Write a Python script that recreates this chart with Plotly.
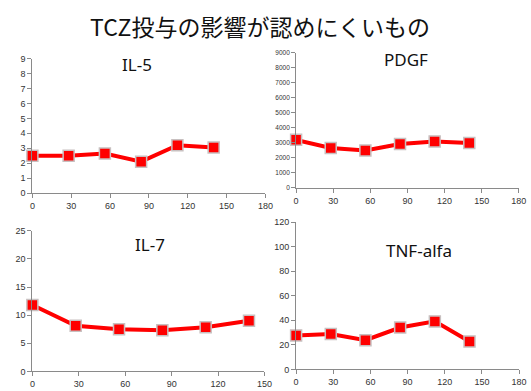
import plotly.graph_objects as go

# Days after TCZ start
days = [0, 28, 56, 84, 112, 140]

# Serum levels per cytokine
il5 = [2.5, 2.5, 2.65, 2.1, 3.2, 3.05]
pdgf = [3200, 2660, 2490, 2920, 3095, 2990]
il7 = [11.8, 8.1, 7.5, 7.3, 7.85, 9.0]
tnf = [27.7, 28.8, 23.8, 34.1, 39.1, 22.7]

main_title = "TCZ投与の影響が認めにくいもの"
panel_names = ["IL-5", "PDGF", "IL-7", "TNF-alfa"]

W, H = 531, 391


def px_x(p):
    return p / W


def px_y(p):
    return 1 - p / H


# (name, values, x-domain px, y-domain px (bottom, top), x range, x ticks, y range, y dtick, y tick font, title pos)
panels = [
    (panel_names[0], il5, (30, 268), (193, 55), [0, 180], [0, 30, 60, 90, 120, 150, 180], [0, 9], 1, 9, (137, 61)),
    (panel_names[1], pdgf, (299.3, 526.7), (187.7, 49), [0, 180], [0, 30, 60, 90, 120, 150, 180], [0, 9000], 1000, 6.5, (412, 56)),
    (panel_names[2], il7, (30, 267), (376, 231.7), [0, 150], [0, 30, 60, 90, 120, 150], [0, 25], 5, 9, (150, 246)),
    (panel_names[3], tnf, (299.3, 527), (374, 222.7), [0, 180], [0, 30, 60, 90, 120, 150, 180], [0, 120], 20, 9, (425, 252)),
]

fig = go.Figure()
layout = {}
annotations = []

axis_color = "#8a8a8a"
tick_color = "#333333"
red = "#ff0000"

for i, (name, vals, xd, yd, xr, xt, yr, ydt, yfs, tpos) in enumerate(panels, start=1):
    xa = "x" if i == 1 else f"x{i}"
    ya = "y" if i == 1 else f"y{i}"
    fig.add_trace(go.Scatter(
        x=days, y=vals, xaxis=xa, yaxis=ya, mode="lines+markers",
        line=dict(color=red, width=4),
        marker=dict(symbol="square", size=11, color=red,
                    line=dict(color="#c8c0c0", width=1.5)),
        showlegend=False, cliponaxis=False,
    ))
    xkey = "xaxis" if i == 1 else f"xaxis{i}"
    ykey = "yaxis" if i == 1 else f"yaxis{i}"
    layout[xkey] = dict(
        domain=[px_x(xd[0]), px_x(xd[1])], range=xr, anchor=ya,
        tickvals=xt, showgrid=False, zeroline=False,
        showline=True, linecolor=axis_color, linewidth=1,
        ticks="outside", ticklen=4, tickcolor=axis_color,
        tickfont=dict(family="Liberation Sans, Arial", size=9, color=tick_color),
        fixedrange=True,
    )
    layout[ykey] = dict(
        domain=[px_y(yd[0]), px_y(yd[1])], range=yr, anchor=xa,
        dtick=ydt, tick0=0, showgrid=False, zeroline=False,
        showline=True, linecolor=axis_color, linewidth=1,
        ticks="outside", ticklen=4, tickcolor=axis_color,
        tickfont=dict(family="Liberation Sans, Arial", size=yfs, color=tick_color),
        fixedrange=True,
    )
    annotations.append(dict(
        text=name, x=px_x(tpos[0]), y=px_y(tpos[1]), xref="paper", yref="paper",
        xanchor="center", yanchor="middle", showarrow=False,
        font=dict(family="Noto Sans, sans-serif", size=17, color="#111111"),
    ))

annotations.append(dict(
    text=main_title, x=px_x(262), y=px_y(22), xref="paper", yref="paper",
    xanchor="center", yanchor="middle", showarrow=False,
    font=dict(family="Noto Sans CJK JP", size=23, color="#111111"),
))

fig.update_layout(
    width=W, height=H, margin=dict(l=0, r=0, t=0, b=0),
    paper_bgcolor="white", plot_bgcolor="white",
    annotations=annotations, **layout,
)

fig.write_html("out.html", config={"displayModeBar": False})
